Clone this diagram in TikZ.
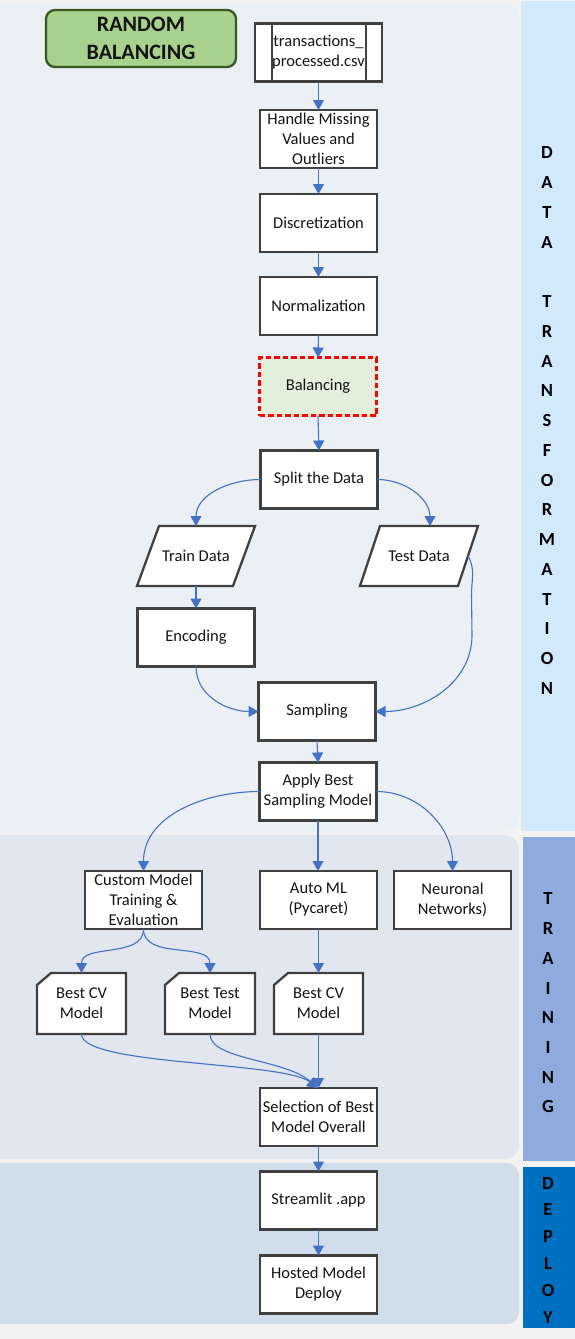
\documentclass[tikz,border=0pt]{standalone}
\usepackage{fontspec}
\setmainfont{Carlito}
\usetikzlibrary{arrows.meta,backgrounds}
\definecolor{bgc}{RGB}{242,242,242}
\definecolor{dtpanel}{RGB}{234,240,244}
\definecolor{trpanel}{RGB}{225,230,239}
\definecolor{dppanel}{RGB}{207,222,234}
\definecolor{dtstrip}{RGB}{210,233,251}
\definecolor{trstrip}{RGB}{143,170,220}
\definecolor{dpstrip}{RGB}{0,112,192}
\definecolor{arrowc}{RGB}{68,114,196}
\definecolor{boxline}{RGB}{64,64,64}
\definecolor{rbfill}{RGB}{169,209,142}
\definecolor{rbline}{RGB}{56,87,35}
\definecolor{balfill}{RGB}{226,239,218}
\definecolor{txt}{RGB}{20,20,20}
\begin{document}
\begin{tikzpicture}[x=1pt,y=1pt,
  box/.style={draw=boxline, line width=2.3pt, fill=white, minimum width=117pt, minimum height=58pt,
    align=center, inner sep=0pt, outer sep=0pt, text=txt, font=\fontsize{16.5}{20}\selectfont},
  plain/.style={minimum width=118pt, minimum height=60pt, align=center, inner sep=0pt, outer sep=0pt,
    text=txt, font=\fontsize{16.5}{20}\selectfont},
  shapeline/.style={draw=boxline, line width=2.3pt, fill=white},
  arr/.style={draw=arrowc, line width=1.1pt, -{Triangle[length=10pt,width=11pt]}},
  side/.style={align=center, inner sep=0pt, text=black},
]
\useasboundingbox (0,0) rectangle (575,-1339);
\begin{scope}[on background layer]
  \fill[bgc] (0,0) rectangle (575,-1339);
  \fill[dtpanel, rounded corners=15pt] (-20,-2) rectangle (519,-831);
  \fill[trpanel, rounded corners=15pt] (-20,-835) rectangle (519,-1159);
  \fill[dppanel, rounded corners=12pt] (-20,-1163) rectangle (519,-1324);
  \fill[dtstrip] (521,-1) rectangle (575,-831);
  \fill[trstrip] (523,-837) rectangle (575,-1161);
  \fill[dpstrip] (523,-1167) rectangle (575,-1328);
\end{scope}

% side labels
\node[side, font=\bfseries\fontsize{18.5}{29.75}\selectfont] (dtlab) at (547,-420.5)
  {D\\A\\T\\A\\\mbox{}\\T\\R\\A\\N\\S\\F\\O\\R\\M\\A\\T\\I\\O\\N};
\node[side, font=\bfseries\fontsize{18.5}{29.7}\selectfont] (trlab) at (548,-1003)
  {T\\R\\A\\I\\N\\I\\N\\G};
\node[side, font=\bfseries\fontsize{18.5}{26.8}\selectfont] (dplab) at (548,-1250)
  {D\\E\\P\\L\\O\\Y};

% title
\node[draw=rbline, line width=2.3pt, fill=rbfill, rounded corners=9pt, minimum width=190pt,
  minimum height=57pt, align=center, inner sep=0pt, text=txt,
  font=\bfseries\fontsize{22}{28}\selectfont] (rb) at (141,-38.5) {RANDOM\\BALANCING};

% data transformation
\node[box, minimum width=127pt] (csv) at (318.5,-52.5) {transactions\_\\processed.csv};
\draw[boxline, line width=2.3pt] ([xshift=17pt]csv.north west) -- ([xshift=17pt]csv.south west);
\draw[boxline, line width=2.3pt] ([xshift=-16pt]csv.north east) -- ([xshift=-16pt]csv.south east);
\node[box] (hm) at (318.5,-139) {Handle Missing\\Values and\\Outliers};
\node[box] (disc) at (318.5,-223) {Discretization};
\node[box] (norm) at (318.5,-306) {Normalization};
\node[box, fill=balfill, draw=red, dash pattern=on 5.5pt off 3pt] (bal) at (318,-386.5) {Balancing};
\node[box] (split) at (319,-479.5) {Split the Data};
\node[plain] (train) at (196,-556) {Train Data};
\node[plain] (test) at (419,-556) {Test Data};
\node[box] (enc) at (196,-637.5) {Encoding};
\node[box] (samp) at (317,-711.5) {Sampling};
\node[box] (apply) at (318,-791.5) {Apply Best\\Sampling Model};

% training
\node[box] (custom) at (143.5,-900) {Custom Model\\Training \&\\Evaluation};
\node[box] (auto) at (318.5,-900) {Auto ML\\(Pycaret)};
\node[box] (neur) at (452.5,-900) {Neuronal\\Networks)};
\node[plain, minimum width=89pt, minimum height=61pt] (cv1) at (81.5,-1003.5) {Best CV\\Model};
\node[plain, minimum width=90pt, minimum height=61pt] (bt) at (210,-1003.5) {Best Test\\Model};
\node[plain, minimum width=89pt, minimum height=61pt] (cv2) at (318.5,-1003.5) {Best CV\\Model};
\node[box] (sel) at (318.5,-1117) {Selection of Best\\Model Overall};

% deploy
\node[box] (st) at (318.5,-1200.5) {Streamlit .app};
\node[box] (host) at (318.5,-1284.5) {Hosted Model\\Deploy};

% shapes behind text
\begin{scope}[on background layer]
  \draw[shapeline] ([xshift=22pt]train.north west) -- (train.north east) -- ([xshift=-22pt]train.south east) -- (train.south west) -- cycle;
  \draw[shapeline] ([xshift=20pt]test.north west) -- (test.north east) -- ([xshift=-20pt]test.south east) -- (test.south west) -- cycle;
  \draw[shapeline] ([yshift=-12pt]cv1.north west) -- ([xshift=14pt]cv1.north west) -- (cv1.north east) -- (cv1.south east) -- (cv1.south west) -- cycle;
  \draw[shapeline] ([yshift=-12pt]bt.north west) -- ([xshift=14pt]bt.north west) -- (bt.north east) -- (bt.south east) -- (bt.south west) -- cycle;
  \draw[shapeline] ([yshift=-12pt]cv2.north west) -- ([xshift=14pt]cv2.north west) -- (cv2.north east) -- (cv2.south east) -- (cv2.south west) -- cycle;
\end{scope}

% connectors
\draw[arr] (csv.south) -- (hm.north);
\draw[arr] (hm.south) -- (disc.north);
\draw[arr] (disc.south) -- (norm.north);
\draw[arr] (norm.south) -- (bal.north);
\draw[arr] (bal.south) -- (split.north);
\draw[arr] (split.west) to[out=180,in=90] (train.north);
\draw[arr] (split.east) to[out=0,in=90] ([xshift=11pt]test.north);
\draw[arr] (train.south) -- (enc.north);
\draw[arr] (enc.south) to[out=-90,in=180] (samp.west);
\coordinate (tbend1) at (471.5,-595);
\coordinate (tbend2) at (472,-635);
\draw[arr] ([xshift=-10pt]test.east) to[out=-60,in=90] (tbend1) -- (tbend2) to[out=-90,in=0] (samp.east);
\draw[arr] (samp.south) -- (apply.north);
\draw[arr] (apply.west) to[out=180,in=90] (custom.north);
\draw[arr] (apply.south) -- (apply.south |- auto.north);
\draw[arr] (apply.east) to[out=0,in=90] (neur.north);
\draw[arr] (custom.south) to[out=-90,in=90] (cv1.north);
\draw[arr] (custom.south) to[out=-90,in=90] (bt.north);
\draw[arr] (auto.south) -- (cv2.north);
\draw[arr] (cv1.south) .. controls +(0,-32) and +(-34,27) .. ([xshift=-1pt]sel.north);
\draw[arr] (bt.south) .. controls +(0,-26) and +(-32,29) .. ([xshift=-1pt]sel.north);
\draw[arr] (cv2.south) -- (sel.north);
\draw[arr] (sel.south) -- (st.north);
\draw[arr] (st.south) -- (host.north);
\end{tikzpicture}
\end{document}
